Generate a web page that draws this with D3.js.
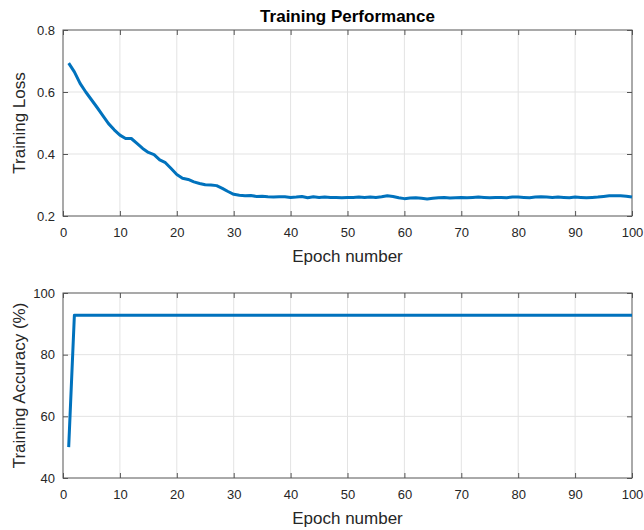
<!DOCTYPE html>
<html>
<head>
<meta charset="utf-8">
<script src="https://cdn.jsdelivr.net/npm/d3@7"></script>
<style>
  body { margin: 0; background: #fff; }
  text { font-family: "Liberation Sans", Arial, sans-serif; }
</style>
</head>
<body>
<script>
const width = 644;
const height = 530;

// Data
const epochs = d3.range(1, 101);
const lossValues = [
  0.693, 0.665, 0.628, 0.600, 0.575, 0.550, 0.524, 0.498, 0.478, 0.461,
  0.450, 0.450, 0.434, 0.418, 0.405, 0.398, 0.381, 0.372, 0.353, 0.334,
  0.322, 0.318, 0.310, 0.305, 0.301, 0.300, 0.298, 0.289, 0.279, 0.270,
  0.267, 0.265, 0.266, 0.263, 0.264, 0.262, 0.261, 0.262, 0.262, 0.260,
  0.261, 0.263, 0.259, 0.262, 0.260, 0.261, 0.260, 0.260, 0.259, 0.260,
  0.260, 0.261, 0.260, 0.261, 0.260, 0.262, 0.265, 0.263, 0.259, 0.256,
  0.258, 0.259, 0.257, 0.255, 0.257, 0.259, 0.260, 0.258, 0.259, 0.260,
  0.259, 0.260, 0.261, 0.260, 0.259, 0.260, 0.260, 0.259, 0.261, 0.261,
  0.260, 0.259, 0.261, 0.262, 0.261, 0.260, 0.261, 0.260, 0.259, 0.261,
  0.260, 0.259, 0.260, 0.261, 0.263, 0.265, 0.265, 0.265, 0.264, 0.261
];
const accValues = [50].concat(d3.range(99).map(() => 92.8));

const xTicks = [0, 10, 20, 30, 40, 50, 60, 70, 80, 90, 100];
const lossTicks = [0.2, 0.4, 0.6, 0.8];
const accTicks = [40, 60, 80, 100];

const svg = d3.select("body").append("svg")
  .attr("width", width)
  .attr("height", height);

const textColor = "#262626";
const lineColor = "#0072BD";

function drawPanel(opts) {
  const { left, right, top, bottom, yDomain, yTicks, yFormat, values, yLabel, title } = opts;
  const x = d3.scaleLinear().domain([0, 100]).range([left, right]);
  const y = d3.scaleLinear().domain(yDomain).range([bottom, top]);
  const g = svg.append("g");

  // grid
  g.selectAll(".vgrid").data(xTicks.slice(1, -1)).join("line")
    .attr("x1", d => x(d)).attr("x2", d => x(d))
    .attr("y1", top).attr("y2", bottom)
    .attr("stroke", "#e3e3e3").attr("stroke-width", 1);
  g.selectAll(".hgrid").data(yTicks.slice(1, -1)).join("line")
    .attr("x1", left).attr("x2", right)
    .attr("y1", d => y(d)).attr("y2", d => y(d))
    .attr("stroke", "#e3e3e3").attr("stroke-width", 1);

  // axes with inward ticks
  const styleAxis = sel => {
    sel.select(".domain").remove();
    sel.selectAll(".tick line").attr("stroke", "#555");
    sel.selectAll(".tick text").attr("fill", textColor).style("font-size", "13px")
      .style("font-family", "'Liberation Sans', Arial, sans-serif");
  };
  g.append("g").attr("transform", `translate(0,${bottom})`)
    .call(d3.axisBottom(x).tickValues(xTicks).tickSize(-5).tickPadding(12))
    .call(styleAxis);
  g.append("g").attr("transform", `translate(0,${top})`)
    .call(d3.axisTop(x).tickValues(xTicks).tickSize(-5).tickFormat(""))
    .call(styleAxis);
  g.append("g").attr("transform", `translate(${left},0)`)
    .call(d3.axisLeft(y).tickValues(yTicks).tickFormat(yFormat).tickSize(-5).tickPadding(8))
    .call(styleAxis);
  g.append("g").attr("transform", `translate(${right},0)`)
    .call(d3.axisRight(y).tickValues(yTicks).tickSize(-5).tickFormat(""))
    .call(styleAxis);

  // box
  g.append("rect")
    .attr("x", left).attr("y", top)
    .attr("width", right - left).attr("height", bottom - top)
    .attr("fill", "none").attr("stroke", "#555").attr("stroke-width", 1);

  // data line
  const line = d3.line().x((d, i) => x(epochs[i])).y(d => y(d));
  g.append("path")
    .datum(values)
    .attr("d", line)
    .attr("fill", "none")
    .attr("stroke", lineColor)
    .attr("stroke-width", 3)
    .attr("stroke-linejoin", "round");

  // labels
  g.append("text")
    .attr("x", (left + right) / 2).attr("y", bottom + 46)
    .attr("text-anchor", "middle")
    .attr("fill", textColor).style("font-size", "17px")
    .text("Epoch number");
  g.append("text")
    .attr("transform", `translate(${left - 38},${(top + bottom) / 2}) rotate(-90)`)
    .attr("text-anchor", "middle")
    .attr("fill", textColor).style("font-size", "17px")
    .text(yLabel);
  if (title) {
    g.append("text")
      .attr("x", (left + right) / 2).attr("y", top - 8)
      .attr("text-anchor", "middle")
      .attr("fill", "#000").style("font-size", "17px").style("font-weight", "bold")
      .text(title);
  }
}

drawPanel({
  left: 63, right: 632, top: 30, bottom: 216,
  yDomain: [0.2, 0.8], yTicks: lossTicks, yFormat: d3.format(".1f"),
  values: lossValues, yLabel: "Training Loss", title: "Training Performance"
});

drawPanel({
  left: 63, right: 632, top: 293, bottom: 478,
  yDomain: [40, 100], yTicks: accTicks, yFormat: d3.format("d"),
  values: accValues, yLabel: "Training Accuracy (%)"
});
</script>
</body>
</html>
